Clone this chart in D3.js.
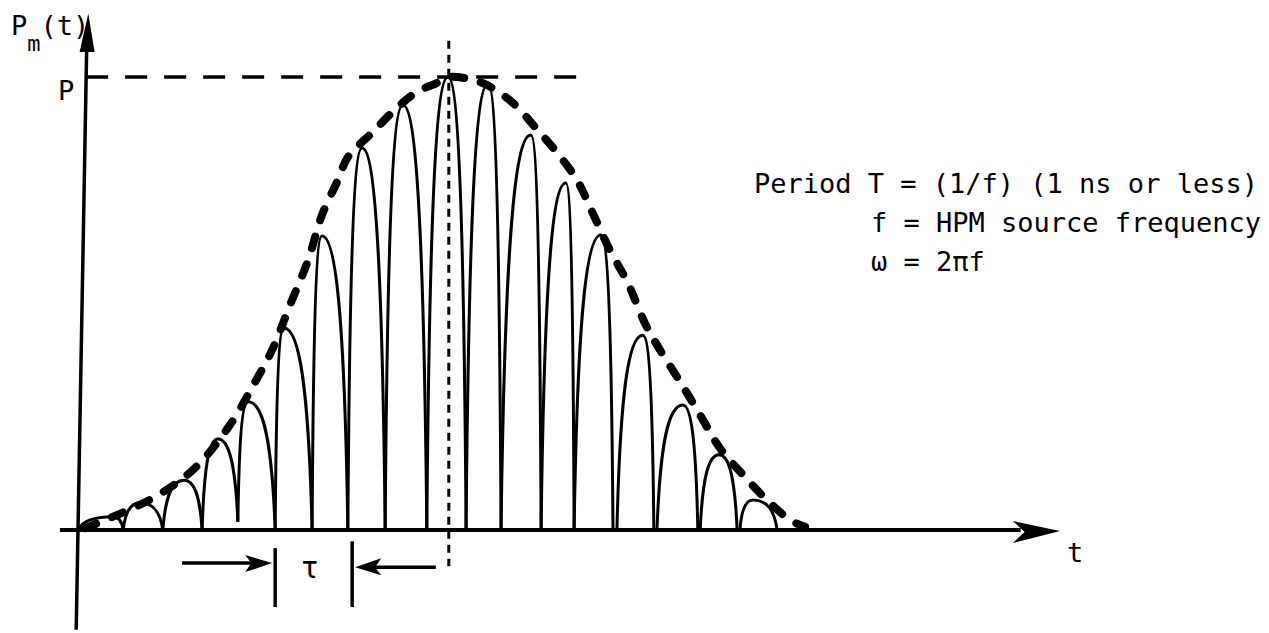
<!DOCTYPE html>
<html>
<head>
<meta charset="utf-8">
<script src="https://cdn.jsdelivr.net/npm/d3@7"></script>
<style>
body{margin:0;background:#fff;}
svg{display:block;}
text{font-family:"DejaVu Sans Mono",monospace;fill:#000;}
</style>
</head>
<body>
<div id="plot"></div>
<script>
// lobes of the pulse: foot, top and foot again (t in periods-ish units, power relative to P)
var lobeStart    = [0.00, 1.15, 2.16, 3.16, 4.07, 5.02, 5.96, 6.87, 7.82, 8.88, 9.88, 10.77, 11.79, 12.63, 13.72, 14.74, 15.84, 16.85];
var lobeStartLvl = [0, 0, 0, 0, 0.018, 0, 0, 0, 0, 0, 0, 0, 0, 0, 0, 0, 0, 0];
var lobeTopT     = [0.89, 1.58, 2.70, 3.56, 4.33, 5.24, 6.21, 7.23, 8.27, 9.42, 10.44, 11.53, 12.42, 13.31, 14.38, 15.40, 16.32, 17.18];
var lobeTop      = [0.029, 0.060, 0.110, 0.201, 0.283, 0.446, 0.649, 0.843, 0.938, 1.0, 0.985, 0.872, 0.766, 0.651, 0.430, 0.276, 0.166, 0.066];
var lobeEnd      = [1.15, 2.16, 3.16, 4.07, 5.02, 5.96, 6.87, 7.82, 8.88, 9.88, 10.77, 11.79, 12.63, 13.62, 14.66, 15.78, 16.78, 17.80];
var lobeEndLvl   = [0, 0, 0, 0.018, 0, 0, 0, 0, 0, 0, 0, 0, 0, 0, 0, 0, 0, 0];

// envelope (thick dashed)
var envT = [0.18, 1.12, 2.04, 2.98, 3.87, 4.51, 4.94, 5.40, 5.86, 6.21, 6.62, 6.87, 7.51, 8.12, 8.63, 9.14, 9.44,
            10.23, 10.74, 11.18, 11.63, 12.14, 12.70, 13.09, 13.54, 14.00, 14.43, 14.82, 15.38, 15.91, 16.34, 16.98, 17.54, 18.13, 18.51];
var envP = [0.004, 0.038, 0.077, 0.137, 0.232, 0.327, 0.397, 0.497, 0.596, 0.695, 0.773, 0.823, 0.879, 0.932, 0.967, 0.987, 1.0,
            0.989, 0.965, 0.934, 0.890, 0.839, 0.773, 0.702, 0.618, 0.545, 0.457, 0.397, 0.320, 0.243, 0.181, 0.117, 0.066, 0.022, 0.007];

var peakT = 9.44;
var tauFrom = 5.02, tauTo = 6.98;
var noteLines = ["Period T = (1/f) (1 ns or less)", "f = HPM source frequency", "\u03c9 = 2\u03c0f"];

var width = 1269, height = 633;
var svg = d3.select('#plot').append('svg').attr('width', width).attr('height', height);

var x = d3.scaleLinear().domain([0, 25]).range([78, 1060]);
var y = d3.scaleLinear().domain([0, 1]).range([530, 77]);
var lean = 0.018; // the hand drawn y axis leans a little
function axisX(py){ return x(0) + (y(0) - py) * lean; }

var ink = '#000';

// axes
svg.append('line')
    .attr('x1', axisX(y(-0.22))).attr('y1', y(-0.22))
    .attr('x2', axisX(y(1.07))).attr('y2', y(1.07))
    .attr('stroke', ink).attr('stroke-width', 3.5);
svg.append('path')
    .attr('d', 'M' + (axisX(y(1.14)) + 1) + ',' + y(1.14) +
        'L' + (axisX(y(1.055)) + 8) + ',' + y(1.055) +
        'L' + (axisX(y(1.055)) - 7) + ',' + y(1.055) + 'Z')
    .attr('fill', ink);

svg.append('line')
    .attr('x1', x(-0.46)).attr('y1', y(0))
    .attr('x2', x(24)).attr('y2', y(0))
    .attr('stroke', ink).attr('stroke-width', 4);
svg.append('path')
    .attr('d', 'M' + x(25) + ',' + (y(0) + 1) +
        'L' + x(23.8) + ',' + (y(0) - 9) +
        'L' + x(24.1) + ',' + (y(0) + 2) +
        'L' + x(23.8) + ',' + (y(0) + 13) + 'Z')
    .attr('fill', ink);

// P level and centre line
svg.append('line')
    .attr('x1', axisX(y(1))).attr('y1', y(1))
    .attr('x2', x(13.1)).attr('y2', y(1))
    .attr('stroke', ink).attr('stroke-width', 3.5)
    .attr('stroke-dasharray', '22,17');
svg.append('line')
    .attr('x1', x(peakT)).attr('y1', y(1.08))
    .attr('x2', x(peakT)).attr('y2', y(-0.08))
    .attr('stroke', ink).attr('stroke-width', 3)
    .attr('stroke-dasharray', '8,6');

// lobes, each a round topped arch
function arch(i){
    var ax = x(lobeStart[i]), ay = y(lobeStartLvl[i]);
    var bx = x(lobeTopT[i]), by = y(lobeTop[i]);
    var cx = x(lobeEnd[i]), cy = y(lobeEndLvl[i]);
    var p = d3.path();
    p.moveTo(ax, ay);
    p.bezierCurveTo(ax + 0.12 * (bx - ax), ay + 0.68 * (by - ay), ax + 0.42 * (bx - ax), by, bx, by);
    p.bezierCurveTo(cx - 0.42 * (cx - bx), by, cx - 0.12 * (cx - bx), cy + 0.68 * (by - cy), cx, cy);
    return p.toString();
}
svg.append('g').attr('class', 'lobes')
    .selectAll('path')
    .data(d3.range(lobeStart.length))
    .enter()
    .append('path')
    .attr('d', arch)
    .attr('fill', 'none')
    .attr('stroke', ink)
    .attr('stroke-width', 3);

// envelope
var envLine = d3.line()
    .x(function(d){ return x(d[0]); })
    .y(function(d){ return y(d[1]); })
    .curve(d3.curveCatmullRom);
svg.append('path')
    .datum(d3.zip(envT, envP))
    .attr('d', envLine)
    .attr('fill', 'none')
    .attr('stroke', ink)
    .attr('stroke-width', 8)
    .attr('stroke-linecap', 'round')
    .attr('stroke-dasharray', '12,17');

// tau marker
svg.append('line')
    .attr('x1', x(tauFrom)).attr('y1', y(-0.04))
    .attr('x2', x(tauFrom)).attr('y2', y(-0.17))
    .attr('stroke', ink).attr('stroke-width', 3.5);
svg.append('line')
    .attr('x1', x(tauTo)).attr('y1', y(-0.025))
    .attr('x2', x(tauTo)).attr('y2', y(-0.17))
    .attr('stroke', ink).attr('stroke-width', 3.5);

var yl = y(-0.073), yr = y(-0.082);
svg.append('line')
    .attr('x1', x(2.65)).attr('y1', yl).attr('x2', x(tauFrom) - 20).attr('y2', yl)
    .attr('stroke', ink).attr('stroke-width', 3.5);
svg.append('path')
    .attr('d', 'M' + (x(tauFrom) - 3) + ',' + yl + 'L' + (x(tauFrom) - 30) + ',' + (yl - 8) +
        'L' + (x(tauFrom) - 24) + ',' + yl + 'L' + (x(tauFrom) - 30) + ',' + (yl + 9) + 'Z')
    .attr('fill', ink);
svg.append('line')
    .attr('x1', x(9.11)).attr('y1', yr).attr('x2', x(tauTo) + 20).attr('y2', yr)
    .attr('stroke', ink).attr('stroke-width', 3.5);
svg.append('path')
    .attr('d', 'M' + (x(tauTo) + 3) + ',' + yr + 'L' + (x(tauTo) + 29) + ',' + (yr - 9) +
        'L' + (x(tauTo) + 23) + ',' + yr + 'L' + (x(tauTo) + 29) + ',' + (yr + 8) + 'Z')
    .attr('fill', ink);
svg.append('text')
    .attr('x', (x(tauFrom) + x(tauTo)) / 2 - 4).attr('y', 578)
    .attr('text-anchor', 'middle')
    .style('font-size', '30px')
    .text('\u03c4');

// labels
var yLab = svg.append('text').attr('x', 11).attr('y', 35).style('font-size', '27px');
yLab.append('tspan').text('P');
yLab.append('tspan').attr('dy', 16).style('font-size', '22px').text('m');
yLab.append('tspan').attr('dy', -16).text('(t)');

svg.append('text').attr('x', 58).attr('y', 100).style('font-size', '27px').text('P');
svg.append('text').attr('x', 1067).attr('y', 562).style('font-size', '27px').text('t');

svg.selectAll('.note')
    .data(noteLines)
    .enter()
    .append('text')
    .attr('class', 'note')
    .attr('x', function(d, i){ return i === 0 ? 754 : 871; })
    .attr('y', function(d, i){ return 193 + i * 39; })
    .style('font-size', '27px')
    .text(function(d){ return d; });
</script>
</body>
</html>
